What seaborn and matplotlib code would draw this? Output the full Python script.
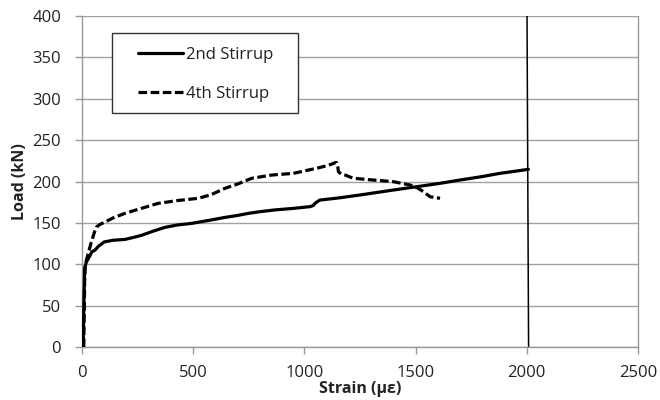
import numpy as np
import pandas as pd
import matplotlib
matplotlib.use("Agg")
import matplotlib.pyplot as plt
import seaborn as sns
from matplotlib.lines import Line2D
from matplotlib.patches import Rectangle

# Measured load-strain response of the stirrups
strain_2nd = [5, 7, 9, 12, 20, 35, 44, 58, 75, 100, 140, 193, 240, 268, 320, 373, 430, 493,
              570, 643, 700, 748, 800, 865, 950, 1025, 1040, 1048, 1060, 1070, 1150, 1250,
              1320, 1400, 1505, 1610, 1700, 1800, 1880, 1950, 2007]
load_2nd = [0, 30, 60, 95, 103, 110, 115, 117, 122, 127, 129, 130, 133, 135, 140, 144.6, 147.5,
            149.4, 153, 156.6, 159, 161.5, 163.5, 165.6, 167.5, 169.6, 171, 173.6, 176, 177.6,
            180, 183.7, 186.5, 189.7, 193.7, 197.8, 201.8, 206, 209.9, 212.5, 214.7]

strain_4th = [8, 10, 12, 15, 25, 40, 55, 65, 80, 103, 140, 193, 260, 343, 430, 523, 580, 643,
              700, 763, 800, 853, 950, 1055, 1100, 1123, 1140, 1145, 1150, 1153, 1165, 1183,
              1220, 1300, 1400, 1475, 1510, 1535, 1565, 1610]
load_4th = [0, 40, 80, 100, 110, 125, 138, 145, 148, 151, 156, 161.5, 167, 173.6, 177, 179.7,
            184, 191.8, 197, 203.9, 205.5, 207.8, 209.8, 216, 219, 221, 223, 222.7, 218, 211.9,
            209, 207.8, 203.9, 202, 199.8, 195.8, 192, 187.7, 181.6, 179.7]

series_names = ["2nd Stirrup", "4th Stirrup"]

# Yield strain reference line
limit_strain = [2008, 2001]
limit_load = [0, 400]

x_ticks = [0, 500, 1000, 1500, 2000, 2500]
y_ticks = [0, 50, 100, 150, 200, 250, 300, 350, 400]

df = pd.concat([
    pd.DataFrame({"strain": strain_2nd, "load": load_2nd, "series": series_names[0]}),
    pd.DataFrame({"strain": strain_4th, "load": load_4th, "series": series_names[1]}),
], ignore_index=True)

sns.set_theme(style="white")
plt.rcParams["font.family"] = ["Open Sans", "DejaVu Sans"]

W, H = 660, 400
fig = plt.figure(figsize=(W / 100, H / 100), dpi=100)
ax_left, ax_top, ax_right, ax_bottom = 82, 16, 638, 347
ax = fig.add_axes([ax_left / W, 1 - ax_bottom / H,
                   (ax_right - ax_left) / W, (ax_bottom - ax_top) / H])
aw, ah = ax_right - ax_left, ax_bottom - ax_top

dash_style = (2.7, 1.1)
sns.lineplot(data=df, x="strain", y="load", hue="series", style="series",
             palette={series_names[0]: "black", series_names[1]: "black"},
             dashes={series_names[0]: "", series_names[1]: dash_style},
             sort=False, estimator=None, linewidth=2.3, legend=False, ax=ax, zorder=3)

ax.plot(limit_strain, limit_load, color="black", linewidth=1.1, zorder=2, clip_on=True)

ax.set_xlim(0, 2500)
ax.set_ylim(0, 400)
ax.set_xticks(x_ticks)
ax.set_yticks(y_ticks)
ax.tick_params(axis="both", which="major", labelsize=12, colors="#999999",
               labelcolor="#222222", length=5, width=1, direction="out",
               left=True, bottom=True)
ax.tick_params(axis="y", pad=10)
ax.tick_params(axis="x", pad=8)

ax.yaxis.grid(True, color="#a0a0a0", linewidth=1)
ax.xaxis.grid(False)
ax.set_axisbelow(True)

for side in ["left", "bottom", "right"]:
    ax.spines[side].set_visible(True)
    ax.spines[side].set_color("#999999")
    ax.spines[side].set_linewidth(1)
ax.spines["top"].set_visible(False)

ax.set_xlabel("Strain (με)", fontsize=11.5, fontweight="bold", color="#222222")
ax.set_ylabel("Load (kN)", fontsize=11.5, fontweight="bold", color="#222222")
ax.xaxis.set_label_coords(0.5, -(381 - ax_bottom) / ah)
ax.yaxis.set_label_coords((28 - ax_left) / aw, 0.5)

# Legend box with its entries
box = Rectangle(((112 - ax_left) / aw, (ax_bottom - 113) / ah),
                186 / aw, 80 / ah, transform=ax.transAxes,
                facecolor="white", edgecolor="#333333", linewidth=1, zorder=4)
ax.add_patch(box)

handles = [
    Line2D([], [], color="black", linewidth=2.3),
    Line2D([], [], color="black", linewidth=2.3, linestyle=(0, dash_style)),
]
leg = ax.legend(handles, series_names, loc="upper left",
                bbox_to_anchor=((138 - ax_left) / aw, (ax_bottom - 47) / ah),
                fontsize=12, frameon=False, handlelength=2.7, handletextpad=0.15,
                labelspacing=1.4, borderpad=0, borderaxespad=0, labelcolor="#222222")
leg.set_zorder(5)

fig.savefig("out.png", dpi=100, facecolor="white")
